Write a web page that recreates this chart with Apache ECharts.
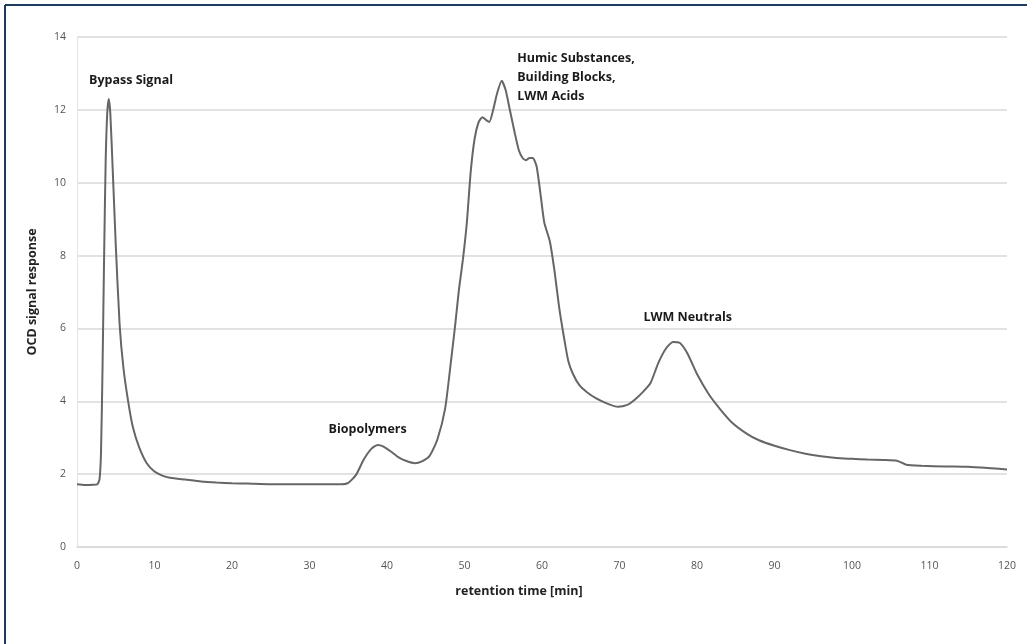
<!DOCTYPE html>
<html>
<head>
<meta charset="utf-8">
<script src="https://cdn.jsdelivr.net/npm/echarts@6/dist/echarts.min.js"></script>
<style>
html,body{margin:0;padding:0;background:#fff;}
#chart{width:1027px;height:644px;}
</style>
</head>
<body>
<div id="chart"></div>
<script>
const retentionTime = [0,1,2,2.6,2.9,3.1,3.3,3.5,3.7,3.9,4.1,4.3,4.6,5.0,5.5,6.0,6.6,7.2,8,9,10,11,12,14,16,18,20,22,25,28,30,32,34,35,36,37,38,38.8,39.5,40.5,41.5,42.5,43.6,44.5,45.5,46.5,47.5,48.2,48.8,49.3,49.8,50.3,50.8,51.3,51.8,52.3,52.8,53.2,53.7,54.2,54.8,55.3,55.8,56.5,57.0,57.5,57.9,58.4,58.8,59.3,59.8,60.3,61.0,61.6,62.2,62.8,63.4,64.0,64.8,65.8,67,68.5,69.8,71,72,73,74,75,76,76.9,77.8,78.8,80,81.5,83,84.5,86.5,88,90,92,94,96,98,100,102,104,105.8,107,109,112,115,118,120];
const ocdSignal = [1.72,1.70,1.71,1.72,1.85,2.6,5.0,8.0,10.6,11.9,12.3,11.9,10.4,8.3,6.1,4.9,4.0,3.3,2.75,2.3,2.07,1.96,1.9,1.85,1.8,1.77,1.75,1.74,1.72,1.72,1.72,1.72,1.72,1.76,1.98,2.4,2.7,2.8,2.76,2.62,2.46,2.36,2.3,2.35,2.5,2.95,3.8,5.0,6.1,7.1,7.9,8.9,10.3,11.2,11.65,11.8,11.72,11.67,12.0,12.45,12.8,12.55,12.05,11.35,10.9,10.68,10.62,10.68,10.68,10.45,9.7,8.9,8.4,7.6,6.6,5.8,5.1,4.75,4.45,4.25,4.08,3.93,3.85,3.9,4.05,4.25,4.5,5.05,5.45,5.63,5.6,5.3,4.75,4.2,3.78,3.42,3.1,2.93,2.78,2.66,2.56,2.49,2.44,2.42,2.4,2.39,2.37,2.26,2.23,2.21,2.2,2.16,2.13];
const annotationTexts = ['Bypass Signal','Biopolymers','Humic Substances,\nBuilding Blocks,\nLWM Acids','LWM Neutrals'];
const annotationAt = [[6.97,12.82],[37.5,3.24],[56.8,12.9],[78.8,6.31]];
const annotationAlign = ['center','center','left','center'];
const xTicks = {min:0,max:120,interval:10};
const yTicks = {min:0,max:14,interval:2};

const chart = echarts.init(document.getElementById('chart'), null, {renderer:'canvas'});
const font = '"Open Sans", "Liberation Sans", sans-serif';
chart.setOption({
  animation:false,
  backgroundColor:'#ffffff',
  grid:{left:77,right:20,top:37,bottom:97,containLabel:false},
  xAxis:{
    type:'value', min:xTicks.min, max:xTicks.max, interval:xTicks.interval,
    name:'retention time [min]', nameLocation:'middle', nameGap:38,
    nameTextStyle:{fontFamily:font,fontWeight:'bold',fontSize:12.5,color:'#222',padding:[0,46,0,0]},
    axisLine:{show:true,lineStyle:{color:'#d9d9d9',width:1.5}},
    axisTick:{show:false},
    axisLabel:{fontFamily:font,fontSize:10.5,color:'#555',margin:14},
    splitLine:{show:false}
  },
  yAxis:{
    type:'value', min:yTicks.min, max:yTicks.max, interval:yTicks.interval,
    name:'OCD signal response', nameLocation:'middle', nameGap:38,
    nameTextStyle:{fontFamily:font,fontWeight:'bold',fontSize:12.5,color:'#222'},
    axisLine:{show:true,lineStyle:{color:'#e3e3e3',width:1}},
    axisTick:{show:false},
    axisLabel:{fontFamily:font,fontSize:10.5,color:'#555',margin:11},
    splitLine:{show:true,lineStyle:{color:'#d9d9d9',width:1.5}}
  },
  graphic:[
    {type:'line',shape:{x1:5,y1:5,x2:1027,y2:5},style:{stroke:'#1f3a5f',lineWidth:2}},
    {type:'line',shape:{x1:5,y1:5,x2:5,y2:644},style:{stroke:'#1f3a5f',lineWidth:2}}
  ],
  series:[{
    type:'line',
    data:retentionTime.map((t,i)=>[t,ocdSignal[i]]),
    showSymbol:false,
    smooth:0.2,
    lineStyle:{color:'#666666',width:2},
    markPoint:{
      symbol:'circle',symbolSize:1,
      itemStyle:{color:'rgba(0,0,0,0)'},
      label:{show:true,position:'inside',fontFamily:font,fontWeight:'bold',fontSize:12.5,color:'#1a1a1a',lineHeight:19},
      data:annotationTexts.map((txt,i)=>({coord:annotationAt[i],value:txt,label:{formatter:txt,align:annotationAlign[i]}}))
    }
  }]
});
</script>
</body>
</html>
